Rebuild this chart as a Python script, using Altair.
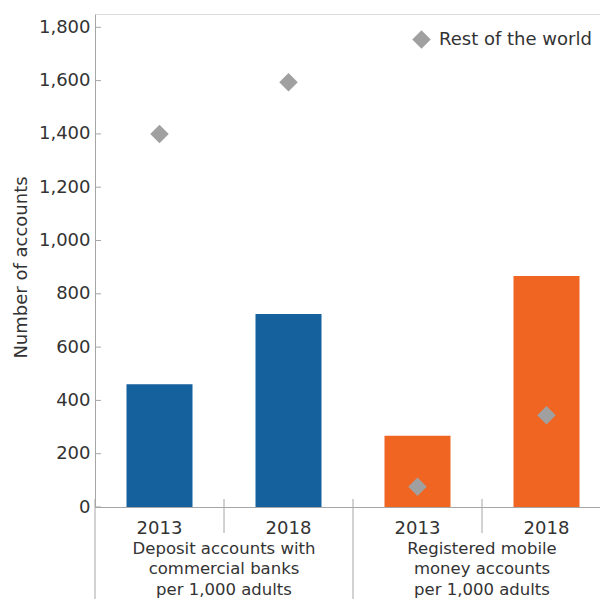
import altair as alt
import pandas as pd

# ---- data ----
categories = ["Deposit|2013", "Deposit|2018", "Mobile|2013", "Mobile|2018"]
groups = ["Deposit", "Deposit", "Mobile", "Mobile"]
bar_values = [461, 724, 267, 867]
world_values = [1400, 1594, 76, 344]
group_names = ["Deposit", "Mobile"]
group_colors = ["#14619E", "#F16522"]
group_labels = [
    "Deposit accounts with\ncommercial banks\nper 1,000 adults",
    "Registered mobile\nmoney accounts\nper 1,000 adults",
]
group_label_anchor = ["Deposit|2018", "Mobile|2018"]
series_name = "Rest of the world"
y_ticks = [0, 200, 400, 600, 800, 1000, 1200, 1400, 1600, 1800]
y_title = "Number of accounts"

FONT = "DejaVu Sans"
TEXT = "#333333"
AXIS = "#A6A6A6"
W, H = 505, 493
RANGE_W = 516

df = pd.DataFrame({"cat": categories, "group": groups, "value": bar_values,
                   "world": world_values, "series": series_name})
ticks_df = pd.DataFrame({"t": y_ticks})
glab_df = pd.DataFrame({"cat": group_label_anchor, "label": group_labels})

xscale = alt.Scale(domain=categories, range=[0, RANGE_W], paddingInner=0, paddingOuter=0)
yscale = alt.Scale(domain=[0, 1850], nice=False, zero=True)

xaxis = alt.Axis(title=None, ticks=False, grid=False, domainColor=AXIS, domainWidth=1,
                 labelExpr="split(datum.value, '|')[1]", labelAngle=0,
                 labelFont=FONT, labelFontSize=18, labelColor=TEXT, labelPadding=12)
yaxis = alt.Axis(title=y_title, values=y_ticks, format=",.0f", ticks=False, grid=False,
                 domainColor=AXIS, domainWidth=1,
                 labelFont=FONT, labelFontSize=18, labelColor=TEXT, labelPadding=5,
                 titleFont=FONT, titleFontSize=18, titleFontWeight="normal", titleColor=TEXT,
                 titleAngle=-90, titleX=-74, titleY=253, titleAlign="center",
                 titleBaseline="middle")

X = alt.X("cat:N", scale=xscale, axis=xaxis, sort=categories)

bars = alt.Chart(df).mark_bar(width=alt.RelativeBandSize(66 / 129)).encode(
    x=X,
    y=alt.Y("value:Q", scale=yscale, axis=yaxis),
    color=alt.Color("group:N", scale=alt.Scale(domain=group_names, range=group_colors), legend=None),
)

points = alt.Chart(df).mark_point(shape="diamond", filled=True, size=340, opacity=1).encode(
    x=alt.X("cat:N", scale=xscale, sort=categories),
    y=alt.Y("world:Q", scale=yscale),
    color=alt.Color("series:N", scale=alt.Scale(range=["#A0A0A0"]),
                    legend=alt.Legend(title=None, orient="none", legendX=317, legendY=16,
                                      padding=0, symbolType="diamond", symbolSize=340,
                                      symbolStrokeWidth=0, symbolOpacity=1,
                                      labelFont=FONT, labelFontSize=18,
                                      labelColor=TEXT, labelOffset=8)),
)

left_ticks = alt.Chart(ticks_df).mark_rule(color=AXIS, strokeWidth=1).encode(
    y=alt.Y("t:Q", scale=yscale), x=alt.value(0), x2=alt.value(6))
right_ticks = alt.Chart(ticks_df).mark_rule(color=AXIS, strokeWidth=1).encode(
    y=alt.Y("t:Q", scale=yscale), x=alt.value(RANGE_W - 7), x2=alt.value(RANGE_W))

group_start = alt.Chart(pd.DataFrame({"cat": [categories[0], categories[2]]})).mark_rule(
    color=AXIS, strokeWidth=1).encode(
    x=alt.X("cat:N", scale=xscale, bandPosition=0), y=alt.value(H - 8), y2=alt.value(H + 110))
group_end = alt.Chart(pd.DataFrame({"cat": [categories[3]]})).mark_rule(
    color=AXIS, strokeWidth=1).encode(
    x=alt.X("cat:N", scale=xscale, bandPosition=1), y=alt.value(H - 8), y2=alt.value(H + 110))
inner = alt.Chart(pd.DataFrame({"cat": [categories[1], categories[3]]})).mark_rule(
    color=AXIS, strokeWidth=1).encode(
    x=alt.X("cat:N", scale=xscale, bandPosition=0), y=alt.value(H - 8), y2=alt.value(H + 26))

glabels = alt.Chart(glab_df).mark_text(
    font=FONT, fontSize=16.5, color=TEXT, align="center", baseline="top",
    lineBreak="\n", lineHeight=20.5).encode(
    x=alt.X("cat:N", scale=xscale, bandPosition=0), y=alt.value(H + 33.5), text="label:N")

chart = alt.layer(bars, points, left_ticks, right_ticks, group_start, group_end, inner, glabels
                  ).resolve_scale(color="independent").properties(
    width=W, height=H,
    autosize=alt.AutoSizeParams(type="none"),
    padding={"left": 87, "top": 6, "right": 0, "bottom": 92},
).configure_view(stroke=None).configure(background="white")

chart.save("out.html", embed_options={"renderer": "svg", "actions": False})
